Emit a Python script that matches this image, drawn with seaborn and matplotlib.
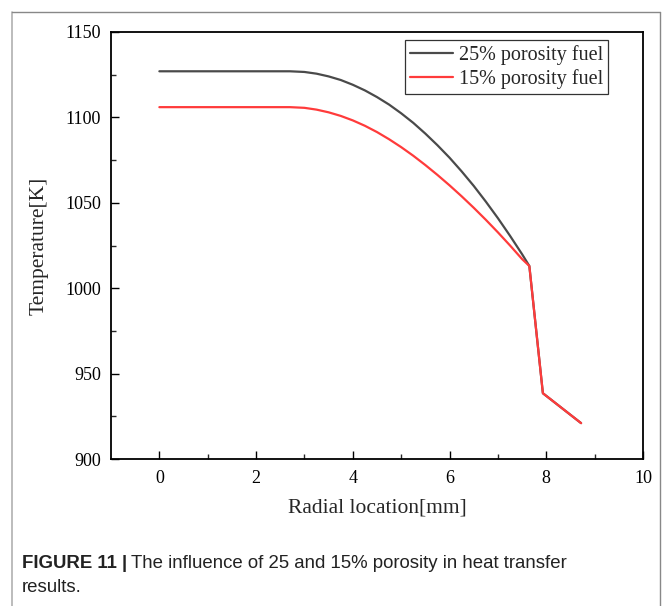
import numpy as np
import pandas as pd
import matplotlib
matplotlib.use("Agg")
import matplotlib.pyplot as plt
from matplotlib.lines import Line2D
import seaborn as sns

# ---- data ----
r_25 = [0.0, 1.0, 2.0, 2.7, 3.0, 3.25, 3.5, 3.75, 4.0, 4.25, 4.5, 4.75, 5.0, 5.25, 5.5,
        5.75, 6.0, 6.25, 6.5, 6.75, 7.0, 7.25, 7.5, 7.65, 7.93, 8.72]
t_25 = [1127, 1127, 1127, 1127, 1126.6, 1125.6, 1124.0, 1121.9, 1119.1, 1115.8, 1111.9,
        1107.5, 1102.4, 1096.8, 1090.5, 1083.7, 1076.4, 1068.4, 1059.9, 1050.7, 1041.0,
        1030.7, 1019.9, 1013, 938.5, 921]
r_15 = [0.0, 1.0, 2.0, 2.7, 3.0, 3.25, 3.5, 3.75, 4.0, 4.25, 4.5, 4.75, 5.0, 5.25, 5.5,
        5.75, 6.0, 6.25, 6.5, 6.75, 7.0, 7.25, 7.5, 7.65, 7.93, 8.72]
t_15 = [1106, 1106, 1106, 1106, 1105.6, 1104.55, 1102.97, 1100.87, 1098.24, 1095.09, 1091.41,
        1087.21, 1082.59, 1077.55, 1072.09, 1066.31, 1060.22, 1053.81, 1047.09, 1040.05,
        1032.7, 1025.03, 1017.05, 1013, 938.5, 921]
series_names = ["25% porosity fuel", "15% porosity fuel"]
x_ticks = [0, 2, 4, 6, 8, 10]
y_ticks = [900, 950, 1000, 1050, 1100, 1150]

df = pd.concat([
    pd.DataFrame({"r": r_25, "T": t_25, "series": series_names[0]}),
    pd.DataFrame({"r": r_15, "T": t_15, "series": series_names[1]}),
], ignore_index=True)

sns.set_style("ticks")
plt.rcParams["font.family"] = ["Liberation Serif", "DejaVu Serif"]

fig = plt.figure(figsize=(6.63, 6.06), dpi=100)
ax = fig.add_axes([111 / 663, 1 - 459 / 606, (643 - 111) / 663, (459 - 32) / 606])

palette = {series_names[0]: "#4a4a4a", series_names[1]: "#ff3b3b"}
sns.lineplot(data=df, x="r", y="T", hue="series", palette=palette, estimator=None,
             sort=False, linewidth=1.6, ax=ax, legend=False)

ax.set_xlim(-1, 10)
ax.set_ylim(900, 1150)
ax.set_xticks(x_ticks)
ax.set_yticks(y_ticks)
ax.set_xticks([1, 3, 5, 7, 9], minor=True)
ax.set_yticks([925, 975, 1025, 1075, 1125], minor=True)
ax.tick_params(which="major", direction="in", length=6, width=1.0, labelsize=13,
               top=False, right=False, colors="black")
ax.tick_params(axis="x", which="major", pad=8)
ax.tick_params(axis="y", which="major", pad=7)
ax.tick_params(which="minor", direction="in", length=3.5, width=1.0, top=False, right=False)
for s in ax.spines.values():
    s.set_linewidth(1.3)
    s.set_color("black")
    s.set_visible(True)

ax.set_xlabel("Radial location[mm]", fontsize=15.5, labelpad=8)
ax.set_ylabel("Temperature[K]", fontsize=15.5, labelpad=12)
ax.grid(False)

handles = [Line2D([0], [0], color=palette[n], lw=1.6) for n in series_names]
leg = ax.legend(handles, series_names, loc="upper right",
                bbox_to_anchor=((608 - 111) / 532, (459 - 40) / 427), borderaxespad=0,
                fontsize=14.5, frameon=True, fancybox=False, handlelength=2.1,
                handletextpad=0.3, borderpad=0.25, labelspacing=0.2)
leg.get_frame().set_edgecolor("black")
leg.get_frame().set_linewidth(0.9)

# outer gray frame (left, top, right)
fig.add_artist(Line2D([12 / 663, 12 / 663], [0, 1 - 12 / 606], transform=fig.transFigure,
                      color="#b0b0b0", lw=1.2))
fig.add_artist(Line2D([12 / 663, 660 / 663], [1 - 12 / 606, 1 - 12 / 606],
                      transform=fig.transFigure, color="#888888", lw=1.0))
fig.add_artist(Line2D([660 / 663, 660 / 663], [0, 1 - 12 / 606], transform=fig.transFigure,
                      color="#888888", lw=1.0))

# caption
cap_font = ["Liberation Sans", "DejaVu Sans"]
t1 = fig.text(22 / 663, 1 - 563 / 606, "FIGURE 11 |", fontsize=13.4, fontweight="bold",
              family=cap_font, color="#222222", va="center", ha="left")
fig.canvas.draw()
bb = t1.get_window_extent()
fig.text(bb.x1 / 663 + 4 / 663, 1 - 563 / 606,
         "The influence of 25 and 15% porosity in heat transfer", fontsize=13.4,
         family=cap_font, color="#222222", va="center", ha="left")
fig.text(22 / 663, 1 - 588 / 606, "results.", fontsize=13.4, family=cap_font,
         color="#222222", va="center", ha="left")

fig.savefig("out.png", dpi=100)
